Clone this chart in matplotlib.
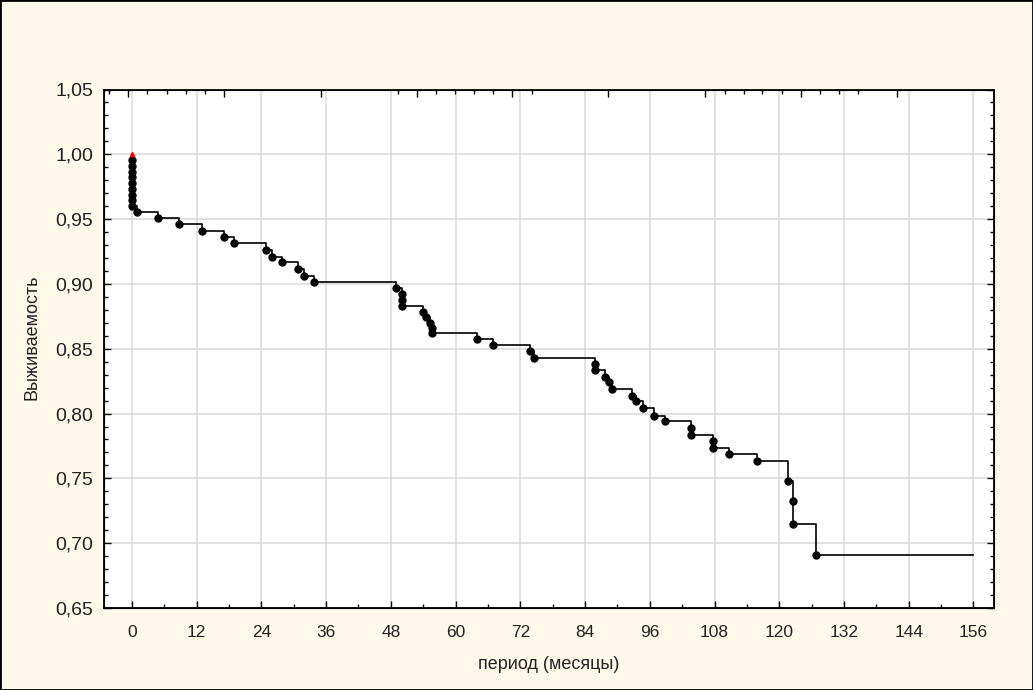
import matplotlib
matplotlib.use("Agg")
import matplotlib.pyplot as plt
from matplotlib.ticker import MultipleLocator, FixedLocator, FuncFormatter
from matplotlib.patches import Rectangle

# Kaplan-Meier estimate: one entry per observed event (time in months, survival after the event)
event_months = [0, 0, 0, 0, 0, 0, 0, 0, 0, 0.9,
                4.9, 8.7, 13.1, 17.0, 19.0, 24.8, 26.0, 27.8, 30.8, 32.0, 33.7,
                48.9, 50.0, 50.0, 50.0, 53.9, 54.6, 55.2, 55.6, 55.7,
                64.0, 67.0, 73.8, 74.6,
                85.9, 85.9, 87.7, 88.5, 89.0, 92.8, 93.4, 94.8, 96.7, 98.8,
                103.6, 103.6, 107.8, 107.8, 110.6, 115.8,
                121.7, 122.6, 122.6, 126.8]
survival = [0.9956, 0.9911, 0.9867, 0.9822, 0.9778, 0.9733, 0.9689, 0.9644, 0.9600, 0.9556,
            0.9505, 0.9460, 0.9408, 0.9359, 0.9315, 0.9262, 0.9210, 0.9167, 0.9115, 0.9062, 0.9018,
            0.8967, 0.8920, 0.8873, 0.8826, 0.8784, 0.8743, 0.8702, 0.8661, 0.8620,
            0.8577, 0.8530, 0.8480, 0.8428,
            0.8385, 0.8338, 0.8285, 0.8240, 0.8190, 0.8138, 0.8095, 0.8040, 0.7985, 0.7940,
            0.7888, 0.7838, 0.7787, 0.7736, 0.7685, 0.7636,
            0.7477, 0.7323, 0.7149, 0.6908]
follow_up_end = 156

x_ticks = list(range(0, 157, 12))
y_ticks = [0.65, 0.70, 0.75, 0.80, 0.85, 0.90, 0.95, 1.00, 1.05]
top_major_ticks = [-0.70, 17.09, 35.06, 52.85, 70.46, 88.25, 106.2, 124.0, 141.8]
top_minor_ticks = [-4.23, 2.82, 6.52, 10.04, 13.56, 49.33, 56.37, 59.89, 63.41, 66.93,
                   74.16, 109.9, 113.5, 116.8, 120.5, 127.6, 131.1, 134.6]

x_label = "период (месяцы)"
y_label = "Выживаемость"

bg = "#FFF9EC"
txt = "#222222"
plt.rcParams["font.family"] = ["Liberation Sans", "DejaVu Sans"]

fig = plt.figure(figsize=(10.33, 6.90), dpi=100, facecolor=bg)
ax = fig.add_axes([104 / 1033, 1 - 608 / 690, (994 - 104) / 1033, (608 - 89.5) / 690])
ax.set_facecolor("white")

# step curve from 1.0 at time zero through each event to the end of follow-up
xs = [0] + event_months + [follow_up_end]
ys = [1.0] + survival + [survival[-1]]
ax.plot(xs, ys, drawstyle="steps-post", color="black", lw=1.2, zorder=3)
ax.plot(event_months, survival, linestyle="none", marker="o", ms=5.0,
        color="black", zorder=4)
ax.plot([0], [1.0], linestyle="none", marker="^", ms=3, color="red", zorder=5)

ax.set_xlim(-5.15, 159.8)
ax.set_ylim(0.65, 1.05)

ax.xaxis.set_major_locator(FixedLocator(x_ticks))
ax.xaxis.set_minor_locator(MultipleLocator(6))
ax.yaxis.set_major_locator(FixedLocator(y_ticks))
ax.yaxis.set_minor_locator(MultipleLocator(0.01))
ax.yaxis.set_major_formatter(FuncFormatter(lambda v, p: f"{v:.2f}".replace(".", ",")))

ax.grid(True, which="major", color="#DADADA", lw=1.1, zorder=0)
ax.set_axisbelow(True)

ax.tick_params(axis="both", which="major", direction="in", length=5, width=1,
               labelcolor=txt)
ax.tick_params(axis="both", which="minor", direction="in", length=3, width=1)
ax.tick_params(axis="x", which="major", labelsize=12.5, pad=12)
ax.tick_params(axis="y", which="major", labelsize=14, pad=8)
ax.tick_params(axis="y", which="both", right=True)
ax.tick_params(axis="x", which="both", top=False)

for s in ax.spines.values():
    s.set_linewidth(1.3)
    s.set_color("black")

# upper axis carries its own tick scale without labels
top = ax.twiny()
top.set_xlim(ax.get_xlim())
top.xaxis.set_major_locator(FixedLocator(top_major_ticks))
top.xaxis.set_minor_locator(FixedLocator(top_minor_ticks))
top.tick_params(axis="x", which="major", direction="in", length=5, width=1, labeltop=False)
top.tick_params(axis="x", which="minor", direction="in", length=3, width=1)

ax.set_xlabel(x_label, fontsize=13, color=txt, labelpad=12)
ax.set_ylabel(y_label, fontsize=13, color=txt)
ax.yaxis.set_label_coords(-0.071, 0.523)

fig.patches.append(Rectangle((0, 0), 1, 1, transform=fig.transFigure, fill=False,
                             edgecolor="black", lw=2, zorder=10))

fig.savefig("out.png", dpi=100, facecolor=bg)
